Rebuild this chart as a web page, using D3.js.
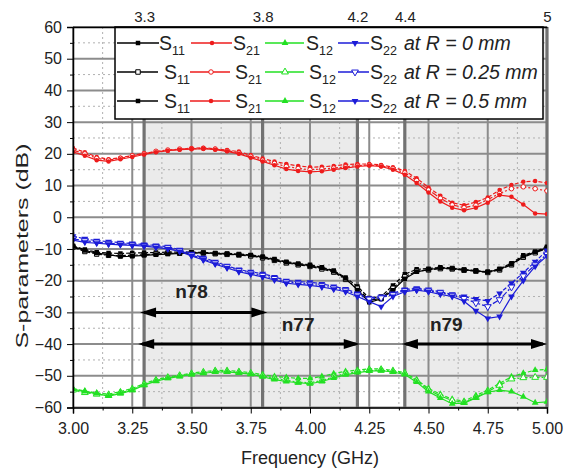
<!DOCTYPE html>
<html><head><meta charset="utf-8">
<script src="https://cdn.jsdelivr.net/npm/d3@7"></script>
<style>body{margin:0;background:#fff} text{font-family:"Liberation Sans",Arial,sans-serif}</style>
</head><body><svg id="c" width="566" height="471"></svg>
<script>
const freq = [3.00,3.05,3.10,3.15,3.20,3.25,3.30,3.35,3.40,3.45,3.50,3.55,3.60,3.65,3.70,3.75,3.80,3.85,3.90,3.95,4.00,4.05,4.10,4.15,4.20,4.25,4.30,4.35,4.40,4.45,4.50,4.55,4.60,4.65,4.70,4.75,4.80,4.85,4.90,4.95,5.00];

const s11R0  = [-9.0,-10.2,-11.0,-11.3,-11.4,-11.3,-11.2,-11.1,-11.0,-11.0,-11.0,-11.1,-11.3,-11.4,-11.6,-11.9,-12.4,-13.2,-14.0,-14.6,-15.0,-15.8,-16.8,-19.0,-21.8,-25.5,-25.0,-21.5,-18.0,-16.4,-16.2,-15.8,-16.0,-16.5,-16.8,-17.2,-16.2,-14.5,-12.0,-10.8,-9.3];
const s11R25 = [-9.4,-10.8,-11.6,-12.0,-12.1,-12.0,-11.8,-11.6,-11.4,-11.3,-11.2,-11.3,-11.5,-11.7,-11.9,-12.2,-12.8,-13.6,-14.4,-15.0,-15.5,-16.3,-17.3,-19.6,-22.4,-26.2,-25.6,-22.4,-18.8,-17.0,-16.6,-16.2,-16.3,-16.7,-17.0,-17.4,-16.6,-15.0,-12.6,-11.2,-9.8];
const s11R50 = [-9.2,-10.5,-11.3,-11.8,-12.4,-12.3,-12.0,-11.8,-11.6,-11.4,-11.3,-11.2,-11.4,-11.6,-11.8,-12.0,-12.6,-13.4,-14.2,-14.8,-15.3,-16.0,-17.0,-19.3,-22.9,-26.8,-25.8,-23.0,-19.4,-17.2,-16.5,-16.0,-16.2,-16.6,-16.9,-17.3,-16.4,-14.8,-12.3,-11.0,-9.6];

const s21R0  = [21.8,20.5,19.0,18.3,18.8,19.5,20.2,20.6,21.0,21.4,21.8,21.9,21.6,21.2,20.7,19.6,18.5,17.6,16.8,16.2,15.8,15.9,16.2,16.6,16.8,16.8,16.5,15.8,14.6,12.3,9.4,6.8,4.6,3.8,4.8,6.2,8.6,10.2,11.2,11.4,10.8];
const s21R25 = [21.2,20.0,18.6,18.0,18.6,19.4,20.0,20.8,21.2,21.5,21.6,21.7,21.5,21.0,20.3,19.2,18.0,17.0,16.0,15.4,15.0,15.2,15.5,15.9,16.3,16.5,16.2,15.4,14.0,11.6,8.6,6.0,3.9,3.0,3.8,5.6,7.5,9.0,9.6,9.0,8.3];
const s21R50 = [20.6,19.4,18.0,17.6,18.3,19.0,19.8,20.5,21.0,21.3,21.5,21.6,21.3,20.8,20.0,18.8,17.6,16.4,15.2,14.6,14.3,14.5,15.0,15.5,16.0,16.3,16.0,15.0,13.4,10.8,7.8,5.0,3.0,2.2,3.0,4.6,7.0,6.5,4.0,1.2,1.0];

const s12R0  = [-54.0,-54.8,-55.4,-55.8,-55.0,-54.0,-52.5,-51.2,-50.4,-49.8,-49.2,-48.7,-48.3,-48.3,-48.6,-49.0,-49.6,-50.2,-50.5,-50.8,-50.8,-50.2,-49.3,-48.6,-48.2,-47.8,-47.8,-48.3,-49.0,-51.2,-54.0,-55.8,-57.4,-58.0,-56.2,-54.5,-52.4,-50.3,-49.2,-48.2,-48.0];
const s12R25 = [-54.5,-55.3,-55.8,-56.2,-55.4,-54.4,-52.8,-51.5,-50.6,-50.0,-49.4,-49.0,-48.6,-48.6,-48.9,-49.3,-50.0,-50.8,-51.4,-52.0,-52.2,-51.5,-50.3,-49.3,-48.7,-48.3,-48.2,-48.6,-49.3,-51.6,-54.5,-56.3,-57.8,-58.4,-56.8,-55.0,-53.0,-51.0,-50.6,-50.5,-50.5];
const s12R50 = [-54.2,-55.0,-55.6,-56.4,-55.6,-54.6,-53.0,-51.7,-50.8,-50.2,-49.6,-49.2,-48.8,-48.8,-49.1,-49.5,-50.3,-51.2,-51.8,-52.2,-52.5,-51.8,-50.7,-49.7,-49.0,-48.5,-48.4,-48.8,-49.6,-52.0,-55.0,-57.0,-58.8,-58.6,-57.0,-55.2,-54.5,-55.0,-56.6,-58.5,-58.2];

const s22R0  = [-6.0,-6.8,-7.4,-7.7,-8.0,-8.3,-8.6,-8.9,-9.3,-10.2,-11.5,-12.8,-14.0,-15.3,-16.5,-17.2,-17.8,-18.8,-20.0,-20.3,-20.5,-21.0,-21.8,-22.6,-24.0,-25.5,-25.0,-24.0,-22.8,-22.4,-22.8,-23.5,-24.3,-25.0,-25.8,-26.4,-24.0,-20.8,-17.5,-14.0,-10.5];
const s22R25 = [-6.8,-7.4,-7.8,-8.2,-8.4,-8.6,-8.9,-9.2,-9.6,-10.5,-11.9,-13.2,-14.4,-15.6,-16.8,-17.6,-18.3,-19.3,-20.4,-20.8,-21.1,-21.6,-22.3,-23.0,-24.5,-25.8,-25.4,-24.4,-23.1,-22.8,-23.2,-23.8,-24.6,-25.6,-27.0,-28.2,-26.0,-22.0,-18.5,-15.0,-11.6];
const s22R50 = [-7.2,-7.9,-8.2,-8.5,-8.7,-8.9,-9.1,-9.5,-10.0,-10.8,-12.2,-13.5,-14.8,-16.0,-17.2,-18.0,-18.8,-19.8,-20.8,-21.2,-21.5,-22.0,-22.7,-23.5,-25.0,-26.6,-28.2,-25.0,-23.5,-23.0,-23.5,-24.3,-25.0,-26.5,-29.5,-31.9,-31.3,-25.0,-20.0,-15.5,-12.2];

const xTicks = [3.00,3.25,3.50,3.75,4.00,4.25,4.50,4.75,5.00];
const xMinor = [3.125,3.375,3.625,3.875,4.125,4.375,4.625,4.875];
const yTicks = [-60,-50,-40,-30,-20,-10,0,10,20,30,40,50,60];
const yMinor = [-55,-45,-35,-25,-15,-5,5,15,25,35,45,55];
const topTicks = [3.3,3.8,4.2,4.4,5];
const bands = [[3.3,4.2],[4.4,5.0]];
const bandNames = ["n78","n77","n79"];
const bandArrows = [[3.283,3.82,-30],[3.275,4.21,-40],[4.388,5.0,-40]];
const bandLabelPos = [[3.50,-25.6],[3.95,-35.8],[4.575,-35.8]];
const params = ["S11","S21","S12","S22"];
const radii = ["0","0.25","0.5"];

const colors = {S11:"#000000",S21:"#ee1c1c",S12:"#22e022",S22:"#1c1cd8"};
const seriesData = {
  S11:[s11R0,s11R25,s11R50], S21:[s21R0,s21R25,s21R50],
  S12:[s12R0,s12R25,s12R50], S22:[s22R0,s22R25,s22R50]
};

(function(){
const svg = d3.select("#c");
svg.append("rect").attr("width",566).attr("height",471).attr("fill","#fff");
const X = d3.scaleLinear().domain([3,5]).range([73,547]);
const Y = d3.scaleLinear().domain([-60,60]).range([407.5,27]);

svg.append("clipPath").attr("id","pc").append("rect")
  .attr("x",X(3)).attr("y",Y(60)).attr("width",X(5)-X(3)).attr("height",Y(-60)-Y(60));

svg.selectAll("rect.band").data(bands).enter().append("rect")
  .attr("x",d=>X(d[0])).attr("y",Y(60)).attr("width",d=>X(d[1])-X(d[0])).attr("height",Y(-60)-Y(60))
  .attr("fill","#ebebeb");

const g = svg.append("g");
g.selectAll("line.xm").data(xMinor).enter().append("line")
  .attr("x1",d=>X(d)).attr("x2",d=>X(d)).attr("y1",Y(60)).attr("y2",Y(-60))
  .attr("stroke","#b0b0b0").attr("stroke-width",1).attr("stroke-dasharray","2,3");
g.selectAll("line.ym").data(yMinor).enter().append("line")
  .attr("x1",X(3)).attr("x2",X(5)).attr("y1",d=>Y(d)).attr("y2",d=>Y(d))
  .attr("stroke","#b0b0b0").attr("stroke-width",1).attr("stroke-dasharray","2,3");
g.selectAll("line.xM").data(xTicks).enter().append("line")
  .attr("x1",d=>X(d)).attr("x2",d=>X(d)).attr("y1",Y(60)).attr("y2",Y(-60))
  .attr("stroke","#8c8c8c").attr("stroke-width",2);
g.selectAll("line.yM").data(yTicks).enter().append("line")
  .attr("x1",X(3)).attr("x2",X(5)).attr("y1",d=>Y(d)).attr("y2",d=>Y(d))
  .attr("stroke","#8c8c8c").attr("stroke-width",2);
g.selectAll("line.tb").data(topTicks).enter().append("line")
  .attr("x1",d=>X(d)).attr("x2",d=>X(d)).attr("y1",Y(60)).attr("y2",Y(-60))
  .attr("stroke","#727272").attr("stroke-width",3.2);

function drawMarker(sel, param, ri, x, y) {
  const col = colors[param];
  const type = {S11:d3.symbolSquare,S21:d3.symbolCircle,S12:d3.symbolTriangle,S22:d3.symbolTriangle}[param];
  const size = {S11:20,S21:16,S12:20,S22:20}[param];
  const open = ri===1;
  const p = sel.append("path").attr("d",d3.symbol().type(type).size(size)())
    .attr("transform",`translate(${x},${y})`+(param==="S22"?" rotate(180)":""));
  if (open) p.attr("fill","#fff").attr("stroke",col).attr("stroke-width",1);
  else p.attr("fill",col);
}

const plot = svg.append("g").attr("clip-path","url(#pc)");
const line = d3.line().x((d,i)=>X(freq[i])).y(d=>Y(d));
const order = ["S12","S21","S11","S22"];
order.forEach(p=>{
  seriesData[p].forEach((arr,ri)=>{
    plot.append("path").attr("d",line(arr)).attr("fill","none")
      .attr("stroke",colors[p]).attr("stroke-width",1.2)
      .attr("stroke-dasharray", ri===0?"4,2":(ri===1?"6,2,2,2":null));
    arr.forEach((v,i)=>drawMarker(plot,p,ri,X(freq[i]),Y(v)));
  });
});

const ag = svg.append("g");
bandArrows.forEach((a,k)=>{
  const x1=X(a[0]), x2=X(a[1]), y=Y(a[2]);
  ag.append("line").attr("x1",x1+4).attr("x2",x2-4).attr("y1",y).attr("y2",y)
    .attr("stroke","#000").attr("stroke-width",3);
  ag.append("path").attr("d",`M${x1},${y} L${x1+16},${y-5} L${x1+16},${y+5} Z`).attr("fill","#000");
  ag.append("path").attr("d",`M${x2},${y} L${x2-16},${y-5} L${x2-16},${y+5} Z`).attr("fill","#000");
  ag.append("text").attr("x",X(bandLabelPos[k][0])).attr("y",Y(bandLabelPos[k][1]))
    .attr("text-anchor","middle").attr("font-size",19).attr("font-weight","bold")
    .attr("fill","#222").text(bandNames[k]);
});

const lg = svg.append("g");
lg.append("rect").attr("x",115).attr("y",Y(60)).attr("width",428).attr("height",92)
  .attr("fill","#fff").attr("stroke","#000").attr("stroke-width",1.5);
const rowY = [43,72,101];
const segs = [
  [[117,159,138,159],[191,232,212,233],[265,304,285,306],[338,369,355,370]],
  [[117,158,138,164],[190,230,211,235],[265,304,285,309],[338,369,355,370]],
  [[117,158,138,164],[190,230,211,235],[265,304,285,309],[338,369,355,370]]
];
rowY.forEach((ry,ri)=>{
  params.forEach((p,pi)=>{
    const s = segs[ri][pi];
    lg.append("line").attr("x1",s[0]).attr("x2",s[1]).attr("y1",ry).attr("y2",ry)
      .attr("stroke",colors[p]).attr("stroke-width",1.5);
    drawMarker(lg,p,ri,s[2],ry);
    const t = lg.append("text").attr("x",s[3]).attr("y",ry+7).attr("font-size",19.5).attr("fill","#222");
    t.append("tspan").text("S");
    t.append("tspan").attr("font-size",12.5).attr("dy",5).text(p.slice(1));
  });
  lg.append("text").attr("x",404).attr("y",ry+7).attr("font-size",19.5).attr("font-style","italic")
    .attr("fill","#222").text(`at R = ${radii[ri]} mm`);
});

const ax = svg.append("g");
const leftAx = ax.append("g").attr("transform",`translate(${X(3)},0)`)
  .call(d3.axisLeft(Y).tickValues(yTicks).tickSize(6).tickPadding(5).tickFormat(d3.format("d")));
leftAx.select(".domain").attr("stroke-width",1.5);
leftAx.selectAll("text").attr("font-size",16).attr("fill","#222").style("font-family","'Liberation Sans',Arial,sans-serif");
ax.append("g").attr("transform",`translate(${X(3)},0)`)
  .call(d3.axisLeft(Y).tickValues(yMinor).tickSize(3).tickFormat(""))
  .select(".domain").remove();
const bottomAx = ax.append("g").attr("transform",`translate(0,${Y(-60)})`)
  .call(d3.axisBottom(X).tickValues(xTicks).tickSize(6).tickPadding(9).tickFormat(d3.format(".2f")));
bottomAx.select(".domain").attr("stroke-width",1.5);
bottomAx.selectAll("text").attr("font-size",16).attr("fill","#222").style("font-family","'Liberation Sans',Arial,sans-serif");
ax.append("g").attr("transform",`translate(0,${Y(-60)})`)
  .call(d3.axisBottom(X).tickValues(xMinor).tickSize(3).tickFormat(""))
  .select(".domain").remove();
const topAx = ax.append("g").attr("transform",`translate(0,${Y(60)})`)
  .call(d3.axisTop(X).tickValues(topTicks).tickSize(0).tickPadding(5).tickFormat(d=>String(d)));
topAx.select(".domain").attr("stroke-width",1.5);
topAx.selectAll("text").attr("font-size",15).attr("fill","#222").style("font-family","'Liberation Sans',Arial,sans-serif");

svg.append("text").attr("x",310).attr("y",464).attr("text-anchor","middle")
  .attr("font-size",18).attr("fill","#222").text("Frequency (GHz)");
svg.append("text").attr("transform","translate(28,246) rotate(-90)").attr("text-anchor","middle")
  .attr("font-size",16).attr("fill","#222").attr("textLength",205).attr("lengthAdjust","spacingAndGlyphs")
  .text("S-parameters (dB)");
})();
</script></body></html>
